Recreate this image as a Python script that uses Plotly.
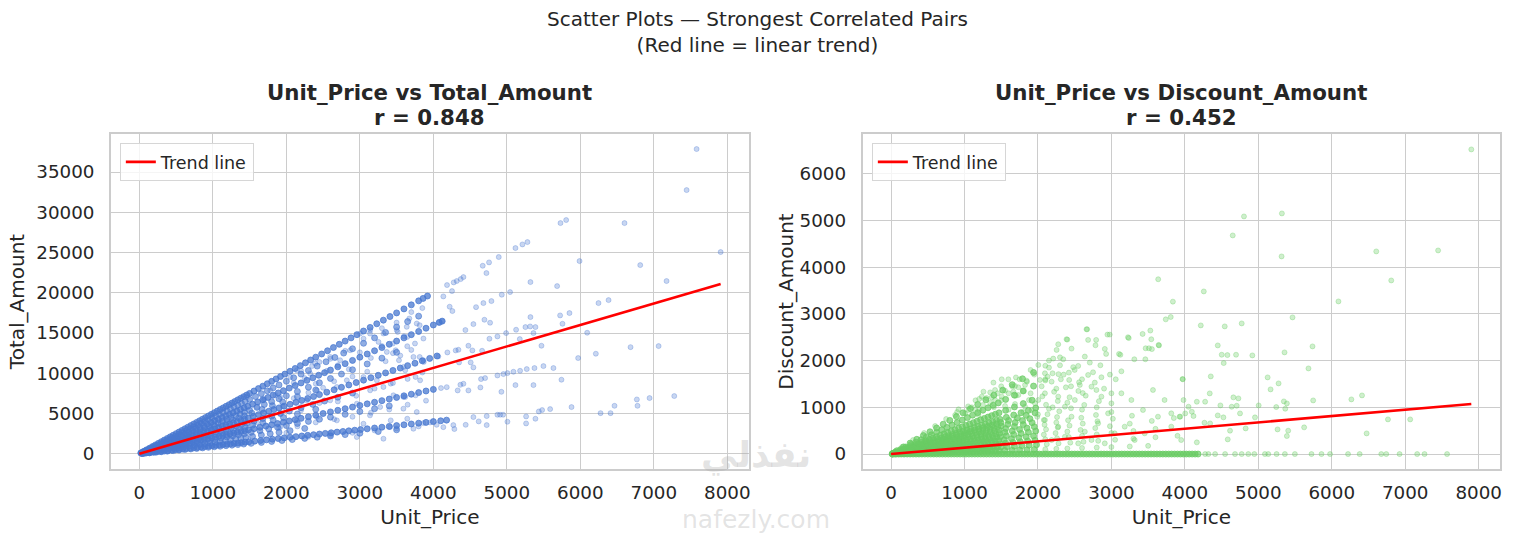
import plotly.graph_objects as go

# ================= LEFT PANEL: Unit_Price vs Total_Amount =================
# points read along the visible rays / chains of the dense wedge
up_c5 = [20,60,100,140,180,220,260,300,340,380,420,460,500,540,580,620,660,700,740,780,820,860,900,940,980,1020,1060,1100,1140,1180,1220,1260,1300,1340,1380,1420,1460,1500,
         1560,1620,1680,1740,1800,1860,1920,1980,
         2050,2120,2190,2260,2330,2400,
         2480,2560,2640,2720,2800,2880,2960,
         3050,3140,3230,3320,3410,3500,
         3600,3700,3800,3860,3920]
ta_c5 = [100,300,500,700,900,1100,1300,1500,1700,1900,2100,2300,2500,2700,2900,3100,3300,3500,3700,3900,4100,4300,4500,4700,4900,5100,5300,5500,5700,5900,6100,6300,6500,6700,6900,7100,7300,7500,
         7800,8100,8400,8700,9000,9300,9600,9900,
         10250,10600,10950,11300,11650,12000,
         12400,12800,13200,13600,14000,14400,14800,
         15250,15700,16150,16600,17050,17500,
         18000,18500,19000,19300,19600]

up_c45 = [40,90,140,190,240,290,340,390,440,490,540,590,640,690,740,790,840,890,940,990,1040,1090,1140,1190,1240,1290,1340,1390,1440,
          1500,1580,1660,1740,1820,1900,
          2000,2100,2200,2300,
          2420,2540,2660,2780,2900,
          3050,3200,3350,3500,3650,3800]
ta_c45 = [180,405,630,855,1080,1305,1530,1755,1980,2205,2430,2655,2880,3105,3330,3555,3780,4005,4230,4455,4680,4905,5130,5355,5580,5805,6030,6255,6480,
          6750,7110,7470,7830,8190,8550,
          9000,9450,9900,10350,
          10890,11430,11970,12510,13050,
          13725,14400,15075,15750,16425,17100]

up_c4 = [25,75,125,175,225,275,325,375,425,475,525,575,625,675,725,775,825,875,925,975,1025,1075,1125,1175,1225,1275,1325,1375,1425,1475,
         1540,1610,1680,1750,1820,1890,1960,
         2040,2120,2200,2280,2360,2440,2520,2600,
         2700,2800,2900,3000,3100,3200,3300,3400,3500,3600,3700,3800,3900,4000,
         4080,4120]
ta_c4 = [100,300,500,700,900,1100,1300,1500,1700,1900,2100,2300,2500,2700,2900,3100,3300,3500,3700,3900,4100,4300,4500,4700,4900,5100,5300,5500,5700,5900,
         6160,6440,6720,7000,7280,7560,7840,
         8160,8480,8800,9120,9440,9760,10080,10400,
         10800,11200,11600,12000,12400,12800,13200,13600,14000,14400,14800,15200,15600,16000,
         16320,16480]

up_c36 = [50,110,170,230,290,350,410,470,530,590,650,710,770,830,890,950,1010,1070,1130,1190,1250,1310,1370,1430,
          1500,1600,1700,1800,1900,2000,
          2150,2300,2450,2600,2750,2900,
          3100,3300,3500]
ta_c36 = [180,396,612,828,1044,1260,1476,1692,1908,2124,2340,2556,2772,2988,3204,3420,3636,3852,4068,4284,4500,4716,4932,5148,
          5400,5760,6120,6480,6840,7200,
          7740,8280,8820,9360,9900,10440,
          11160,11880,12600]

up_c33 = [70,150,230,310,390,470,550,630,710,790,870,950,1030,1110,1190,1270,1350,1430,
          1530,1670,1810,1950,
          2150,2400]
ta_c33 = [231,495,759,1023,1287,1551,1815,2079,2343,2607,2871,3135,3399,3663,3927,4191,4455,4719,
          5049,5511,5973,6435,
          7095,7920]

up_c3 = [30,80,130,180,230,280,330,380,430,480,530,580,630,680,730,780,830,880,930,980,1030,1080,1130,1180,1230,1280,1330,1380,1430,1480,
         1550,1620,1690,1760,1830,1900,1970,
         2050,2130,2210,2290,2370,2450,
         2550,2650,2750,2850,2950,3050,3150,3250,3350,3450,3550,3650,3750,3850,3950,4050]
ta_c3 = [90,240,390,540,690,840,990,1140,1290,1440,1590,1740,1890,2040,2190,2340,2490,2640,2790,2940,3090,3240,3390,3540,3690,3840,3990,4140,4290,4440,
         4650,4860,5070,5280,5490,5700,5910,
         6150,6390,6630,6870,7110,7350,
         7650,7950,8250,8550,8850,9150,9450,9750,10050,10350,10650,10950,11250,11550,11850,12150]

up_c26 = [60,130,200,270,340,410,480,550,620,690,760,830,900,970,1040,1110,1180,1250,1320,1390,1460,
          1560,1680,1800,1920,2040,
          2200,2360,2520,
          2700,2900]
ta_c26 = [156,338,520,702,884,1066,1248,1430,1612,1794,1976,2158,2340,2522,2704,2886,3068,3250,3432,3614,3796,
          4056,4368,4680,4992,5304,
          5720,6136,6552,
          7020,7540]

up_c23 = [80,160,240,320,400,480,560,640,720,800,880,960,1040,1120,1200,1280,1360,1440,
          1540,1680,1820,1960,
          2150,2400]
ta_c23 = [184,368,552,736,920,1104,1288,1472,1656,1840,2024,2208,2392,2576,2760,2944,3128,3312,
          3542,3864,4186,4508,
          4945,5520]

up_c2 = [35,85,135,185,235,285,335,385,435,485,535,585,635,685,735,785,835,885,935,985,1035,1085,1135,1185,1235,1285,1335,1385,1435,1485,
         1560,1640,1720,1800,1880,1960,2040,2120,2200,
         2300,2400,2500,2600,2700,2800,2900,3000,3100,3200,3300,3400,3500,3600,3700,3800,3900,4000]
ta_c2 = [70,170,270,370,470,570,670,770,870,970,1070,1170,1270,1370,1470,1570,1670,1770,1870,1970,2070,2170,2270,2370,2470,2570,2670,2770,2870,2970,
         3120,3280,3440,3600,3760,3920,4080,4240,4400,
         4600,4800,5000,5200,5400,5600,5800,6000,6200,6400,6600,6800,7000,7200,7400,7600,7800,8000]

up_c18 = [70,150,230,310,390,470,550,630,710,790,870,950,1030,1110,1190,1270,1350,1430,
          1520,1640,1760,1880,2000,
          2150,2300,2450,2600,
          2800,3000,3200,3400]
ta_c18 = [122,262,402,542,682,822,962,1102,1242,1382,1522,1662,1802,1942,2082,2222,2362,2502,
          2660,2870,3080,3290,3500,
          3762,4025,4288,4550,
          4900,5250,5600,5950]

up_c14 = [50,120,190,260,330,400,470,540,610,680,750,820,890,960,1030,1100,1170,1240,1310,1380,1450,
          1540,1660,1780,1900,
          2050,2250]
ta_c14 = [70,168,266,364,462,560,658,756,854,952,1050,1148,1246,1344,1442,1540,1638,1736,1834,1932,2030,
          2156,2324,2492,2660,
          2870,3150]

up_c1 = [40,90,140,190,240,290,340,390,440,490,540,590,640,690,740,790,840,890,940,990,1040,1090,1140,1190,1240,1290,1340,1390,1440,1490,
         1570,1650,1730,1810,1890,1970,2050,2130,2210,2290,2370,2450,2530,2610,2690,2770,2850,2930,3010,
         3100,3200,3300,3400,3500,3600,3700,3800,3900,4000,4100,4180]
ta_c1 = [40,90,140,190,240,290,340,390,440,490,540,590,640,690,740,790,840,890,940,990,1040,1090,1140,1190,1240,1290,1340,1390,1440,1490,
         1570,1650,1730,1810,1890,1970,2050,2130,2210,2290,2370,2450,2530,2610,2690,2770,2850,2930,3010,
         3100,3200,3300,3400,3500,3600,3700,3800,3900,4000,4100,4180]

up_c085 = [60,140,220,300,380,460,540,620,700,780,860,940,1020,1100,1180,1260,1340,1420,
           1520,1660,1800,1940,2080,
           2250,2420,2600,
           2800,3000,3250,3500]
ta_c085 = [51,119,187,255,323,391,459,527,595,663,731,799,867,935,1003,1071,1139,1207,
           1292,1411,1530,1649,1768,
           1912,2057,2210,
           2380,2550,2762,2975]

# scattered points between the rays (1500-3900)
up_mid = [2100,2250,2400,2550,2700,2850,3000,3150,3300,3450,
          3600,3750,2300,2500,2650,2900,3100,3350,3550,3700,
          2200,2450,2700,2950,3200,3450,3650,3850,2150,2400,
          2650,2900,3150,3400,3650,3900,2300,2600,2900,3200,
          3500,3800,1700,1850,1950,1750,1600,1900,2000,2100,
          2350,2600,2800,3050,3300,3500,3700,3850,2200,2450,
          3673,3814,3515,3138,3448,3645,3487,3645,3532,3814,
          3870,3617,3758,3420,3617,3758,3138,3420,3645]
ta_mid = [8800,9400,8700,10300,11000,10500,12600,11900,13400,12500,
          14600,13700,7600,8200,9000,9600,10200,11500,12200,12900,
          5400,6300,6500,7200,8100,8800,9300,10100,3400,3900,
          4300,4600,5100,5500,6100,6600,2100,2300,2600,2900,
          3150,3400,6800,7300,5900,4700,3900,3200,2600,6900,
          10900,11800,12800,14300,15600,16300,17600,18100,10300,11400,
          16805,15975,15145,14938,13693,14523,12863,13361,11618,12033,
          11411,10373,9544,8714,7054,7261,4772,4149,4357]

up_mid2 = [3004,3140,3321,2868,3253,3367,2596,2732,2392,3502,
           3638,3774,3865,3729,3865,3593,3820,3049,3231,3321,
           3140,3457,3593,2823,2687,2415,2279,2596,2959,3276,
           3593,3774,2053,2143,2324,1781,1917,1690,2415,2687,
           3049,3412,3729,2143,1917,2596,2959,3321,1917,1599,1464]
ta_mid2 = [14940,15355,14940,12865,13900,12650,12035,11620,11205,15355,
           15770,16185,14318,12035,11620,10790,9130,9545,9130,8300,
           7885,7263,7055,9130,8300,7885,6640,6640,6225,5810,
           5603,5188,9545,10375,9960,7885,7055,6640,4565,4150,
           3735,3320,3113,4150,3320,2490,2075,1868,4980,5810,7055]

# sparse high-price points (x > ~3850)
up_hi = [7582,7446,5730,5807,6601,7909,5989,6815,7173,5684,
         5321,6247,6384,5117,5212,5280,4890,4672,4758,4722,
         4277,4318,4372,4409,4186,4254,4136,4259,4222,4931,
         5044,4790,4681,4581,5321,5725,5852,5757,5389,5317,
         5253,5126,4990,5362,4872,4763,5471,6093,5970,6211,
         6683,7065,4545,4436,4695,4772,4118,4077,4477,4341,
         4191,4304,4663,4531,4508,4545,4350,4068,5176,5498,
         5376,5271,5180,5090,5008,4953,4872,4704,4649,4409,
         4368,4182,4104,5634,5743,5362,5117,4926,4640,4477,
         4331,7278,6942,6769,6778,6465,6275,6411,5880,5589,
         5480,5435,5389,5262,5262,5008,4949,4908,4872,4726,
         4726,4617,4545,4440,4286,4272,4136,4045,3955,3864]
ta_hi = [37860,32760,28660,29040,28660,25060,23940,23440,21460,20830,
         21330,18720,19090,25560,26010,26300,24440,23360,23780,22450,
         21290,21460,21700,21950,20960,20210,19550,17730,18270,19760,
         20090,18970,18720,18220,16980,17190,17480,16150,15740,15820,
         15740,15410,14990,14990,14580,14290,13420,15040,11890,12430,
         13250,13380,16110,15370,16650,16280,16490,16320,13420,12920,
         12590,12840,12800,12840,11350,10730,11350,12090,14250,10890,
         10650,10520,10310,10190,10020,9900,9730,9400,9280,8700,
         8570,8280,8160,10650,9200,8530,8530,7700,8240,7870,
         7870,7170,6920,6750,5960,5960,5050,5050,5800,5550,
         5430,5260,4350,4640,3770,3980,4850,4850,4850,4680,
         3560,4020,4560,3600,3070,3560,3310,3600,3890,3810]

trend1_x = [0, 7909]
trend1_y = [0, 21100]

# ================= RIGHT PANEL: Unit_Price vs Discount_Amount =================
up_ra = [20,70,120,170,220,270,320,370,420,470,520,570,620,670,720,770,820,870,920,970,1020,1070,1120,1170,1220,1270,1320,1370,1420,1470,
         1550,1650,1750,1850,1950,2100,2250,2400,2600,2800,3000,3250,3500]
da_ra = [1,4,6,8,11,14,16,18,21,24,26,28,31,34,36,38,41,44,46,48,51,54,56,58,61,64,66,68,71,74,
         78,82,88,92,98,105,112,120,130,140,150,162,175]

up_rb = [45,95,145,195,245,295,345,395,445,495,545,595,645,695,745,795,845,895,945,995,1045,1095,1145,1195,1245,1295,1345,1395,1445,1495,
         1580,1680,1780,1880,1980,2120,2280,2440,2620,2820,3050,3300,3600,3900]
da_rb = [5,10,15,20,25,30,35,40,45,50,55,60,65,70,75,80,85,90,95,100,105,110,115,120,125,130,135,140,145,150,
         158,168,178,188,198,212,228,244,262,282,305,330,360,390]

up_rc = [30,80,130,180,230,280,330,380,430,480,530,580,630,680,730,780,830,880,930,980,1030,1080,1130,1180,1230,1280,1330,1380,1430,1480,
         1560,1660,1760,1860,1960,2100,2260,2420,2600,2800,3000,3300,3600]
da_rc = [5,12,20,27,35,42,50,57,65,72,80,87,95,102,110,117,125,132,140,147,155,162,170,177,185,192,200,207,215,222,
         234,249,264,279,294,315,339,363,390,420,450,495,540]

up_rd = [15,65,115,165,215,265,315,365,415,465,515,565,615,665,715,765,815,865,915,965,1015,1065,1115,1165,1215,1265,1315,1365,1415,1465,
         1540,1640,1740,1840,1940,2080,2240,2400,2580,2780,2980,3250,3550,3850]
da_rd = [3,13,23,33,43,53,63,73,83,93,103,113,123,133,143,153,163,173,183,193,203,213,223,233,243,253,263,273,283,293,
         308,328,348,368,388,416,448,480,516,556,596,650,710,770]

up_re = [40,90,140,190,240,290,340,390,440,490,540,590,640,690,740,790,840,890,940,990,1040,1090,1140,1190,1240,1290,1340,1390,1440,1490,
         1570,1670,1770,1870,1970,2110,2270,2430,2610,2810,3020,3280]
da_re = [10,22,35,48,60,72,85,98,110,122,135,148,160,172,185,198,210,222,235,248,260,272,285,298,310,322,335,348,360,372,
         392,418,442,468,492,528,568,608,652,702,755,820]

up_rf = [25,75,125,175,225,275,325,375,425,475,525,575,625,675,725,775,825,875,925,975,1025,1075,1125,1175,1225,1275,1325,1375,1425,1475,
         1550,1650,1750,1850,1950,2090,2250,2410,2590,2790,3000]
da_rf = [8,22,38,52,68,82,98,112,128,142,158,172,188,202,218,232,248,262,278,292,308,322,338,352,368,382,398,412,428,442,
         465,495,525,555,585,627,675,723,777,837,900]

up_rx = [30,90,150,210,270,330,390,450,510,570,630,690,750,810,870,930,990,1050,1110,1170,1230,1290,1350,1410,1470,
         1560,1680,1800,1920,2080,2260]
da_rx = [10,32,52,74,94,116,136,158,178,200,220,242,262,284,304,326,346,368,388,410,430,452,472,494,514,
         546,588,630,672,728,791]

up_rg = [50,100,150,200,250,300,350,400,450,500,550,600,650,700,750,800,850,900,950,1000,1050,1100,1150,1200,1250,1300,1350,1400,1450,1500,
         1590,1690,1790,1890,1990,2130,2290,2450,2630,2830]
da_rg = [20,40,60,80,100,120,140,160,180,200,220,240,260,280,300,320,340,360,380,400,420,440,460,480,500,520,540,560,580,600,
         636,676,716,756,796,852,916,980,1052,1132]

up_ry = [55,115,175,235,295,355,415,475,535,595,655,715,775,835,895,955,1015,1075,1135,1195,1255,1315,1375,1435,1495,
         1600,1720,1840,1960,2150]
da_ry = [25,52,79,106,133,160,187,214,241,268,295,322,349,376,403,430,457,484,511,538,565,592,619,646,673,
         720,774,828,882,968]

up_rh = [35,85,135,185,235,285,335,385,435,485,535,585,635,685,735,785,835,885,935,985,1035,1085,1135,1185,1235,1285,1335,1385,1435,1485,
         1570,1670,1770,1870,1970,2110,2270,2430,2610]
da_rh = [18,42,68,92,118,142,168,192,218,242,268,292,318,342,368,392,418,442,468,492,518,542,568,592,618,642,668,692,718,742,
         785,835,885,935,985,1055,1135,1215,1305]

up_ri = [20,70,120,170,220,270,320,370,420,470,520,570,620,670,720,770,820,870,920,970,1020,1070,1120,1170,1220,1270,1320,1370,1420,1470,
         1560,1680,1800,1920,2060,2220,2380,2560]
da_ri = [12,42,72,102,132,162,192,222,252,282,312,342,372,402,432,462,492,522,552,582,612,642,672,702,732,762,792,822,852,882,
         936,1008,1080,1152,1236,1332,1428,1536]

up_rj = [60,130,200,270,340,410,480,550,620,690,760,830,900,970,1040,1110,1180,1250,1320,1390,1460,
         1560,1680,1800,1940,2100,2280,2480]
da_rj = [45,98,150,202,255,308,360,412,465,518,570,622,675,728,780,832,885,938,990,1042,1095,
         1170,1260,1350,1455,1575,1710,1860]

up_rk = [80,170,260,350,440,530,620,710,800,890,980,1080,1180,1290,1400,1520,1650,1790,1940,2100,2300]
da_rk = [72,153,234,315,396,477,558,639,720,801,882,972,1062,1161,1260,1368,1485,1611,1746,1890,2070]

up_rl = [150,300,450,600,750,900,1050,1200,1350,1500,1700,1900,2150,2400,2670]
da_rl = [150,300,450,600,750,900,1020,1180,1320,1450,1640,1800,2000,2450,2670]

up_rmid = [2661,2389,2276,2254,2457,2946,2977,2683,2792,2783,
           2910,2928,2638,2706,2548,2344,2208,2005,2095,2199,
           2131,2027,2186,2421,2312,2425,3104,3226,3136,3059,
           3425,3530,3543,3511,3643,3466,3312,3462,1394,1507,
           1597,1688,1733,1824,1846,1665,1552,1416,1258,1235,
           1371,1507,1416,1733,1878,1959,1688,1552,1824,1914,
           1054,919,873,1009,1145,1190,2095,2276,2457,2638,
           2819,2955,2729,2548,2367,2186,2910,3045,3181,3317,
           3453,3634,3815,3950,3928,3973,3724,3815,3566,3430,
           3272,3136,3000,2864,2729,2570,2683,2774,2864,2796,
           2502,2367,2276,2095,2005,3236,3551,3648,3122]
da_rmid = [2671,2457,2350,2229,2257,2557,2557,2443,2443,2329,
           2250,2143,2086,1957,1886,2029,2043,1907,1729,1729,
           1657,1586,1550,1743,1600,1586,2143,2500,1771,1600,
           2571,2643,2457,2264,2336,2264,2029,2029,1529,1600,
           1600,1457,1429,1479,1571,1336,1357,1371,1336,1229,
           1214,1229,1157,1264,1157,1086,1071,1029,1014,943,
           943,957,836,871,943,836,729,586,800,479,
           657,871,300,229,371,300,229,443,586,300,
           443,800,586,300,800,1600,1157,871,1371,943,
           1157,1300,1086,1229,1443,1479,1693,1529,1643,1371,
           1157,1014,1229,1300,1157,2482,2246,2325,2124]

up_rmid2 = [1100,1150,1250,1300,1350,1450,1500,1600,1650,1700,
            1750,1800,1850,1900,1950,2050,2100,2150,2250,2300,
            2350,2450,2500,2550,2600,2650,2750,2850,2900,2980,
            1200,1400,1600,1800,2000,2200,2400,2600,2800,3000]
da_rmid2 = [1000,1150,1050,1200,1100,1300,1150,1300,1450,1250,
            1600,1350,1550,1300,1700,1450,1600,1850,1400,1900,
            1700,1450,1800,1350,1600,1250,1750,1900,1400,1700,
            950,1000,950,900,850,1000,1100,950,1000,1300]

up_rhi = [7900,4805,5321,4652,5317,6606,7448,6810,4258,6091,
          5466,4217,4543,4774,5738,4448,4502,4579,4697,4919,
          5357,4529,5683,3968,4353,5127,5167,5276,4339,6267,
          6412,5747,5348,5389,5367,5244,5005,4661,4729,4638,
          4706,4751,4484,4163,4276,4095,4118,4448,4525,4955,
          4828,4615,4584,5262,5407,5389,5624,6765,7068,6475,
          4163,4344,4267,3937,4005,4050,3982,3637,3837,3740,3808]
da_rhi = [6520,5086,5150,4679,4230,4337,4358,3716,3481,3267,
          2925,2753,2732,2796,2304,2325,2126,2118,2126,2111,
          2176,1947,1833,1605,1662,1641,1384,1512,1298,1170,
          1255,1148,1127,1084,970,1006,1041,1213,1191,1013,
          1034,870,1041,1120,1120,906,813,827,785,785,
          549,500,314,528,500,385,571,742,742,442,
          250,656,670,800,870,1013,1156,3741,3262,2883,2933]

# zero-discount points lying on the baseline
up_zero_dense = [20,60,100,140,180,220,260,300,340,380,420,460,500,540,580,620,660,700,740,780,
                 820,860,900,940,980,1020,1060,1100,1140,1180,1220,1260,1300,1340,1380,1420,1460,1500,1540,1580,
                 1620,1660,1700,1740,1780,1820,1860,1900,1940,1980,2020,2060,2100,2140,2180,2220,2260,2300,2340,2380,
                 2420,2460,2500,2540,2580,2620,2660,2700,2740,2780,2820,2860,2900,2940,2980,3020,3060,3100,3140,3180,
                 3220,3260,3300,3340,3380,3420,3460,3500,3540,3580,3620,3660,3700,3740,3780,3820,3860,3900,3940,3980,
                 4020,4060,4100,4140,4180]
da_zero_dense = [0,0,0,0,0,0,0,0,0,0,0,0,0,0,0,0,0,0,0,0,
                 0,0,0,0,0,0,0,0,0,0,0,0,0,0,0,0,0,0,0,0,
                 0,0,0,0,0,0,0,0,0,0,0,0,0,0,0,0,0,0,0,0,
                 0,0,0,0,0,0,0,0,0,0,0,0,0,0,0,0,0,0,0,0,
                 0,0,0,0,0,0,0,0,0,0,0,0,0,0,0,0,0,0,0,0,
                 0,0,0,0,0]
up_zero_sparse = [4276,4321,4412,4548,4683,4774,4864,4946,5090,5136,5249,5362,5498,5724,5860,
                  5977,6222,6380,6674,6742,6923,7163,7263,7570]
da_zero_sparse = [0,0,0,0,0,0,0,0,0,0,0,0,0,0,0,
                  0,0,0,0,0,0,0,0,0]

trend2_x = [0, 7900]
trend2_y = [0, 1070]

# ================= assemble =================
left_main_x = up_c5 + up_c4 + up_c3 + up_c2 + up_c1
left_main_y = ta_c5 + ta_c4 + ta_c3 + ta_c2 + ta_c1
left_sec_x = up_c45 + up_c36 + up_c33 + up_c26 + up_c23 + up_c18 + up_c14 + up_c085
left_sec_y = ta_c45 + ta_c36 + ta_c33 + ta_c26 + ta_c23 + ta_c18 + ta_c14 + ta_c085
left_sp_x = up_mid + up_mid2 + up_hi
left_sp_y = ta_mid + ta_mid2 + ta_hi

chains_x = up_ra + up_rb + up_rc + up_rd + up_re + up_rf + up_rx + up_rg + up_ry + up_rh + up_ri + up_rj + up_rk
chains_y = da_ra + da_rb + da_rc + da_rd + da_re + da_rf + da_rx + da_rg + da_ry + da_rh + da_ri + da_rj + da_rk
# the crowded part of the wedge (low prices) is drawn stronger than its thinner tail
near = [(a, b) for a, b in zip(chains_x, chains_y) if a <= 1980]
far = [(a, b) for a, b in zip(chains_x, chains_y) if a > 1980]

right_dense_x = up_zero_dense + [a for a, b in near]
right_dense_y = da_zero_dense + [b for a, b in near]
right_sp_x = [a for a, b in far] + up_rl + up_rmid + up_rmid2 + up_rhi + up_zero_sparse
right_sp_y = [b for a, b in far] + da_rl + da_rmid + da_rmid2 + da_rhi + da_zero_sparse

TXT = "#262626"
GRID = "#cccccc"
FONT = "DejaVu Sans"


def blue(a):
    return "rgba(72,120,208,%s)" % a


def green(a):
    return "rgba(106,204,100,%s)" % a


def pts(x, y, col, xa, ya, size=5):
    return go.Scatter(x=x, y=y, mode="markers", showlegend=False, hoverinfo="x+y",
                      marker=dict(size=size, color=col, line=dict(width=1, color=col)),
                      xaxis=xa, yaxis=ya)


fig = go.Figure()
fig.add_trace(pts(left_sp_x, left_sp_y, blue(0.3), "x", "y"))
fig.add_trace(pts(left_sec_x, left_sec_y, blue(0.6), "x", "y", 6))
fig.add_trace(pts(left_main_x, left_main_y, blue(0.75), "x", "y", 6))
fig.add_trace(go.Scatter(x=trend1_x, y=trend1_y, mode="lines", name="Trend line",
                         line=dict(color="#ff0000", width=2.6), xaxis="x", yaxis="y",
                         legend="legend"))
fig.add_trace(pts(right_sp_x, right_sp_y, green(0.32), "x2", "y2"))
fig.add_trace(pts(right_dense_x, right_dense_y, green(0.7), "x2", "y2", 6))
fig.add_trace(go.Scatter(x=trend2_x, y=trend2_y, mode="lines", name="Trend line",
                         line=dict(color="#ff0000", width=2.6), xaxis="x2", yaxis="y2",
                         legend="legend2"))

W, H = 1515, 539


def px_x(p):
    return p / W


def px_y(p):
    return 1 - p / H


ax_common = dict(showgrid=True, gridcolor=GRID, gridwidth=1.3, zeroline=False,
                 showline=True, mirror=True, linecolor=GRID, linewidth=1.5,
                 ticks="outside", tickcolor="rgba(0,0,0,0)",
                 tickfont=dict(size=18.3, color=TXT, family=FONT), tickformat="d")
xticks = [0, 1000, 2000, 3000, 4000, 5000, 6000, 7000, 8000]
title_font = dict(size=20, color=TXT, family=FONT)

fig.update_layout(
    width=W, height=H,
    paper_bgcolor="white", plot_bgcolor="white",
    margin=dict(l=0, r=0, t=0, b=0),
    font=dict(family=FONT, color=TXT),
    title=dict(text="Scatter Plots — Strongest Correlated Pairs<br>(Red line = linear trend)",
               x=0.5, xanchor="center", y=px_y(25.5), yanchor="middle",
               font=dict(size=20, color=TXT, family=FONT)),
    xaxis=dict(domain=[px_x(111), px_x(750)], range=[-388, 8295], tickvals=xticks,
               ticklen=6, anchor="y",
               title=dict(text="Unit_Price", font=title_font, standoff=8),
               **ax_common),
    yaxis=dict(domain=[px_y(469), px_y(134)], range=[-1892, 39730],
               tickvals=[0, 5000, 10000, 15000, 20000, 25000, 30000, 35000],
               ticklen=11, anchor="x",
               title=dict(text="Total_Amount", font=title_font, standoff=6),
               **ax_common),
    xaxis2=dict(domain=[px_x(863.7), px_x(1502.3)], range=[-388, 8295], tickvals=xticks,
                ticklen=6, anchor="y2",
                title=dict(text="Unit_Price", font=title_font, standoff=8),
                **ax_common),
    yaxis2=dict(domain=[px_y(469), px_y(134)], range=[-320, 6850],
                tickvals=[0, 1000, 2000, 3000, 4000, 5000, 6000],
                ticklen=11, anchor="x2",
                title=dict(text="Discount_Amount", font=title_font, standoff=1),
                **ax_common),
    legend=dict(x=px_x(120), y=px_y(143), xanchor="left", yanchor="top",
                bgcolor="rgba(255,255,255,0.8)", bordercolor="#d6d6d6", borderwidth=1,
                font=dict(size=17.5, color=TXT, family=FONT)),
    legend2=dict(x=px_x(873), y=px_y(143), xanchor="left", yanchor="top",
                 bgcolor="rgba(255,255,255,0.8)", bordercolor="#d6d6d6", borderwidth=1,
                 font=dict(size=17.5, color=TXT, family=FONT)),
    annotations=[
        dict(text="<b>Unit_Price vs Total_Amount</b>", x=px_x(430.5), y=px_y(92.5),
             xref="paper", yref="paper", showarrow=False, xanchor="center", yanchor="middle",
             font=dict(size=21.3, color=TXT, family=FONT)),
        dict(text="<b>r = 0.848</b>", x=px_x(430.5), y=px_y(117),
             xref="paper", yref="paper", showarrow=False, xanchor="center", yanchor="middle",
             font=dict(size=21.3, color=TXT, family=FONT)),
        dict(text="<b>Unit_Price vs Discount_Amount</b>", x=px_x(1183), y=px_y(92.5),
             xref="paper", yref="paper", showarrow=False, xanchor="center", yanchor="middle",
             font=dict(size=21.3, color=TXT, family=FONT)),
        dict(text="<b>r = 0.452</b>", x=px_x(1183), y=px_y(117),
             xref="paper", yref="paper", showarrow=False, xanchor="center", yanchor="middle",
             font=dict(size=21.3, color=TXT, family=FONT)),
        dict(text="<b>نفذلي</b>", x=px_x(757), y=px_y(455),
             xref="paper", yref="paper", showarrow=False, xanchor="center", yanchor="middle",
             font=dict(size=36, color="rgba(170,170,170,0.33)", family="DejaVu Sans")),
        dict(text="nafezly.com", x=px_x(757), y=px_y(519),
             xref="paper", yref="paper", showarrow=False, xanchor="center", yanchor="middle",
             font=dict(size=25, color="rgba(170,170,170,0.33)", family="DejaVu Sans")),
    ],
)

fig.write_html("out.html", config={"displayModeBar": False},
               post_script="document.body.style.margin='0';document.body.style.overflow='hidden';")
